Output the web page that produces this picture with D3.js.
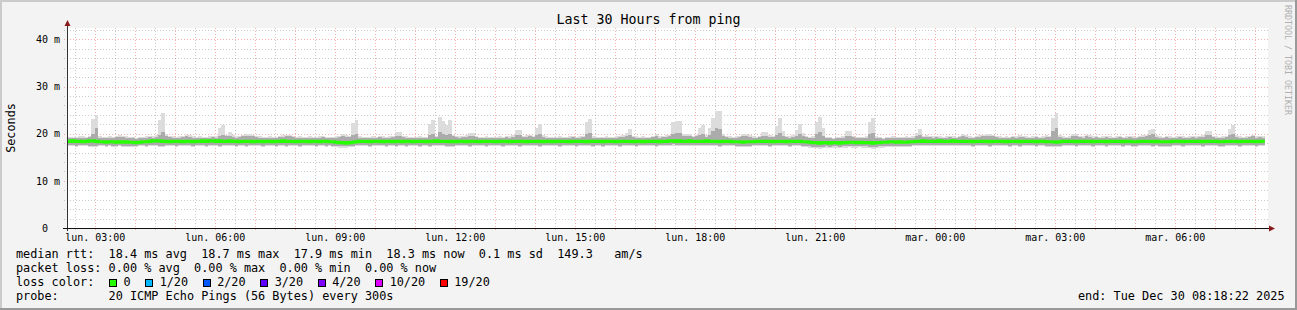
<!DOCTYPE html>
<html><head><meta charset="utf-8">
<script src="https://cdn.jsdelivr.net/npm/d3@7"></script>
<style>
html,body{margin:0;padding:0;background:#f3f3f3;}
svg{display:block;}
text{font-family:"DejaVu Sans Mono",monospace;}
</style></head><body>
<svg id="c" width="1297" height="310"></svg>
<script>
// ---------- DATA (5-minute steps, first step starts lun. 02:15) ----------
const medianRtt = [
18.4,18.4,18.5,18.4,18.4,18.3,18.4,18.5,18.5,18.4,18.3,18.3,18.2,18.3,18.3,18.2,18.3,18.2,18.3,18.2,
18.2,18.1,18.2,18.3,18.3,18.4,18.5,18.5,18.5,18.4,18.4,18.3,18.4,18.4,18.4,18.3,18.4,18.4,18.3,18.4,
18.4,18.5,18.4,18.5,18.5,18.4,18.5,18.4,18.4,18.5,18.4,18.4,18.3,18.4,18.4,18.4,18.3,18.4,18.4,18.3,
18.4,18.4,18.3,18.4,18.4,18.5,18.4,18.4,18.4,18.3,18.4,18.4,18.4,18.3,18.4,18.4,18.3,18.4,18.4,18.3,
18.3,18.2,18.1,18.1,18.0,18.1,18.2,18.3,18.4,18.4,18.4,18.3,18.4,18.4,18.4,18.3,18.4,18.4,18.3,18.4,
18.4,18.3,18.4,18.4,18.3,18.4,18.4,18.4,18.3,18.4,18.4,18.5,18.4,18.4,18.4,18.3,18.4,18.3,18.4,18.4,
18.3,18.4,18.4,18.4,18.3,18.4,18.4,18.4,18.4,18.3,18.4,18.4,18.4,18.3,18.4,18.4,18.4,18.4,18.3,18.4,
18.4,18.4,18.4,18.3,18.4,18.4,18.3,18.4,18.4,18.4,18.4,18.3,18.4,18.4,18.4,18.4,18.3,18.4,18.4,18.4,
18.4,18.3,18.4,18.4,18.4,18.3,18.4,18.4,18.4,18.4,18.3,18.4,18.4,18.3,18.4,18.4,18.4,18.4,18.3,18.4,
18.4,18.5,18.5,18.4,18.5,18.4,18.4,18.5,18.4,18.4,18.4,18.4,18.5,18.4,18.4,18.4,18.3,18.4,18.4,18.4,
18.3,18.3,18.3,18.2,18.3,18.3,18.3,18.4,18.4,18.4,18.4,18.4,18.3,18.4,18.4,18.4,18.3,18.4,18.4,18.4,
18.4,18.3,18.3,18.2,18.1,18.1,18.0,18.1,18.1,18.0,18.1,18.1,18.0,18.1,18.1,18.2,18.2,18.1,18.2,18.1,
18.1,18.1,18.0,18.1,18.1,18.2,18.2,18.3,18.3,18.2,18.3,18.2,18.2,18.3,18.3,18.4,18.4,18.5,18.4,18.4,
18.4,18.4,18.5,18.4,18.4,18.4,18.5,18.4,18.4,18.4,18.4,18.4,18.3,18.4,18.4,18.4,18.4,18.3,18.4,18.4,
18.4,18.4,18.3,18.4,18.4,18.4,18.3,18.4,18.4,18.4,18.4,18.3,18.4,18.4,18.3,18.3,18.3,18.2,18.3,18.4,
18.4,18.4,18.4,18.3,18.4,18.4,18.4,18.4,18.3,18.4,18.4,18.4,18.3,18.4,18.4,18.4,18.4,18.3,18.4,18.4,
18.3,18.3,18.4,18.4,18.4,18.4,18.3,18.4,18.3,18.3,18.3,18.3,18.4,18.4,18.4,18.3,18.4,18.4,18.4,18.4,
18.4,18.3,18.4,18.4,18.4,18.4,18.3,18.3,18.4,18.4,18.4,18.4,18.3,18.4,18.4,18.4,18.4,18.3,18.4,18.4
];
const maxRtt = [
19.4,19.3,19.3,19.4,19.5,19.5,19.4,19.6,23.2,23.9,19.5,19.4,19.3,19.5,19.4,19.6,19.7,19.6,19.5,19.4,
19.3,19.2,19.3,19.4,19.5,19.6,19.5,19.7,23.0,24.3,19.9,19.6,19.5,19.4,19.5,19.6,19.8,19.7,19.5,19.4,
19.5,19.4,19.3,19.5,19.6,19.5,21.2,21.8,19.8,20.3,19.7,19.5,19.6,19.8,20.0,20.0,19.8,19.6,19.5,19.4,
19.4,19.5,19.3,19.4,19.6,19.7,19.8,19.8,19.6,19.4,19.5,19.3,19.4,19.5,19.3,19.4,19.5,19.6,19.4,19.3,
19.4,19.5,19.6,20.0,19.7,19.6,22.3,23.0,19.5,19.4,19.3,19.4,19.5,19.4,19.6,19.5,19.4,19.5,19.6,20.4,
20.4,19.6,19.5,19.4,19.3,19.4,19.5,19.4,19.3,22.1,23.0,19.6,23.6,22.8,21.8,23.0,19.8,19.6,19.5,19.6,
19.7,20.2,20.2,19.6,19.4,19.3,19.5,19.4,19.3,19.4,19.5,19.4,19.6,19.5,19.7,20.7,20.8,19.6,19.7,19.8,
19.6,21.2,22.1,19.7,19.5,19.4,19.3,19.4,19.5,19.4,19.3,19.5,19.6,19.4,19.5,19.6,22.5,23.1,19.5,19.4,
19.3,19.4,19.5,19.4,19.3,19.5,19.6,19.7,20.2,21.0,19.6,19.5,19.4,19.5,19.3,19.4,19.6,19.9,19.5,19.6,
19.7,19.8,22.4,22.8,22.8,20.0,20.0,20.0,19.6,19.8,21.2,21.9,19.7,21.2,23.3,24.8,24.8,19.9,19.6,19.5,
19.4,19.5,19.6,20.0,20.0,19.7,19.5,19.4,19.6,20.3,20.3,19.7,19.6,21.6,23.3,20.6,19.6,19.5,19.7,20.8,
22.0,20.2,19.6,19.4,19.5,22.4,23.6,21.2,19.4,19.3,19.2,19.3,19.4,19.5,20.6,20.6,19.6,19.4,19.3,19.4,
19.5,22.4,23.3,19.5,19.3,19.2,19.3,19.4,19.5,19.3,19.4,19.3,19.5,19.4,19.5,20.2,21.1,19.6,19.7,19.6,
19.5,19.6,19.5,19.4,19.5,19.6,19.5,19.4,19.6,20.0,19.7,19.5,19.4,19.6,19.7,19.8,20.0,20.0,19.8,19.6,
19.5,19.4,19.5,19.4,19.6,19.5,19.7,19.6,19.5,19.4,19.5,19.6,19.4,19.5,19.7,19.6,23.3,24.3,19.7,19.5,
19.4,19.5,20.0,20.0,19.6,19.5,19.8,19.7,19.5,19.6,19.4,19.5,19.6,19.5,19.4,19.5,19.6,19.4,19.5,19.6,
19.5,19.4,19.6,19.7,19.8,20.8,21.1,19.7,19.5,19.4,19.6,19.5,19.4,19.5,19.6,19.5,19.4,19.5,19.6,19.5,
19.6,19.7,20.5,20.5,19.6,19.5,19.4,19.5,19.6,21.0,21.8,19.7,19.5,19.4,19.5,19.6,19.8,19.5,19.6,19.5
];
const upperSmoke = [
19.1,19.0,19.0,19.1,19.2,19.2,19.1,19.3,20.0,21.2,19.2,19.1,19.0,19.2,19.1,19.3,19.4,19.3,19.2,19.1,
19.0,18.9,19.0,19.1,19.2,19.3,19.2,19.4,19.8,20.4,19.6,19.3,19.2,19.1,19.2,19.3,19.5,19.4,19.2,19.1,
19.2,19.1,19.0,19.2,19.3,19.2,19.6,19.7,19.5,19.6,19.4,19.2,19.3,19.5,19.6,19.6,19.5,19.3,19.2,19.1,
19.1,19.2,19.0,19.1,19.3,19.4,19.5,19.5,19.3,19.1,19.2,19.0,19.1,19.2,19.0,19.1,19.2,19.3,19.1,19.0,
19.1,19.2,19.3,19.5,19.4,19.3,19.8,20.0,19.2,19.1,19.0,19.1,19.2,19.1,19.3,19.2,19.1,19.2,19.3,19.6,
19.6,19.3,19.2,19.1,19.0,19.1,19.2,19.1,19.0,19.8,20.0,19.3,20.4,20.0,19.8,20.0,19.5,19.3,19.2,19.3,
19.4,19.6,19.6,19.3,19.1,19.0,19.2,19.1,19.0,19.1,19.2,19.1,19.3,19.2,19.4,19.7,19.7,19.3,19.4,19.5,
19.3,19.8,20.0,19.4,19.2,19.1,19.0,19.1,19.2,19.1,19.0,19.2,19.3,19.1,19.2,19.3,20.0,20.2,19.2,19.1,
19.0,19.1,19.2,19.1,19.0,19.2,19.3,19.4,19.6,19.8,19.3,19.2,19.1,19.2,19.0,19.1,19.3,19.5,19.2,19.3,
19.4,19.5,20.0,20.2,20.2,19.6,19.6,19.6,19.3,19.5,19.8,20.0,19.4,19.8,20.6,21.2,21.0,19.6,19.3,19.2,
19.1,19.2,19.3,19.6,19.6,19.4,19.2,19.1,19.3,19.6,19.6,19.4,19.3,19.8,20.2,19.6,19.3,19.2,19.4,19.6,
20.0,19.6,19.3,19.1,19.2,19.9,20.3,19.6,19.1,19.0,18.9,19.0,19.1,19.2,19.6,19.6,19.3,19.1,19.0,19.1,
19.2,19.9,20.2,19.2,19.0,18.9,19.0,19.1,19.2,19.0,19.1,19.0,19.2,19.1,19.2,19.6,19.8,19.3,19.4,19.3,
19.2,19.3,19.2,19.1,19.2,19.3,19.2,19.1,19.3,19.6,19.4,19.2,19.1,19.3,19.4,19.5,19.6,19.6,19.5,19.3,
19.2,19.1,19.2,19.1,19.3,19.2,19.4,19.3,19.2,19.1,19.2,19.3,19.1,19.2,19.4,19.3,20.6,21.2,19.4,19.2,
19.1,19.2,19.6,19.6,19.3,19.2,19.5,19.4,19.2,19.3,19.1,19.2,19.3,19.2,19.1,19.2,19.3,19.1,19.2,19.3,
19.2,19.1,19.3,19.4,19.5,19.8,19.9,19.4,19.2,19.1,19.3,19.2,19.1,19.2,19.3,19.2,19.1,19.2,19.3,19.2,
19.3,19.4,19.7,19.7,19.3,19.2,19.1,19.2,19.3,19.8,20.0,19.4,19.2,19.1,19.2,19.3,19.5,19.2,19.3,19.2
];
const lowerSmoke = [
17.6,17.7,17.6,17.5,17.6,17.7,17.6,17.5,17.4,17.4,17.6,17.7,17.5,17.6,17.5,17.4,17.6,17.5,17.5,17.4,
17.5,17.5,17.6,17.6,17.5,17.6,17.7,17.6,17.5,17.5,17.6,17.7,17.6,17.5,17.6,17.7,17.6,17.6,17.5,17.6,
17.7,17.6,17.5,17.6,17.7,17.6,17.5,17.6,17.6,17.7,17.6,17.5,17.6,17.6,17.5,17.6,17.7,17.6,17.6,17.5,
17.6,17.7,17.6,17.5,17.6,17.6,17.5,17.6,17.7,17.6,17.5,17.6,17.6,17.7,17.6,17.5,17.6,17.6,17.5,17.6,
17.5,17.4,17.3,17.3,17.3,17.4,17.5,17.6,17.6,17.7,17.6,17.5,17.6,17.6,17.7,17.6,17.5,17.6,17.6,17.5,
17.6,17.6,17.5,17.6,17.7,17.6,17.5,17.6,17.6,17.5,17.6,17.7,17.6,17.6,17.5,17.4,17.5,17.6,17.6,17.7,
17.6,17.5,17.6,17.7,17.6,17.6,17.5,17.6,17.7,17.6,17.6,17.5,17.6,17.6,17.7,17.6,17.5,17.6,17.6,17.6,
17.7,17.6,17.5,17.6,17.6,17.7,17.6,17.6,17.5,17.6,17.7,17.6,17.6,17.5,17.6,17.6,17.7,17.6,17.5,17.6,
17.6,17.5,17.6,17.7,17.6,17.6,17.5,17.6,17.6,17.7,17.6,17.5,17.6,17.6,17.6,17.7,17.6,17.5,17.6,17.6,
17.7,17.7,17.8,17.7,17.7,17.6,17.7,17.7,17.6,17.7,17.6,17.7,17.7,17.6,17.7,17.6,17.5,17.6,17.6,17.6,
17.6,17.5,17.5,17.4,17.5,17.5,17.6,17.6,17.7,17.6,17.6,17.5,17.6,17.6,17.7,17.6,17.6,17.5,17.6,17.6,
17.6,17.5,17.4,17.3,17.2,17.2,17.1,17.2,17.3,17.2,17.3,17.3,17.2,17.3,17.3,17.4,17.3,17.3,17.4,17.3,
17.3,17.2,17.1,17.2,17.3,17.3,17.4,17.5,17.5,17.4,17.5,17.4,17.5,17.5,17.6,17.6,17.6,17.7,17.6,17.6,
17.6,17.6,17.7,17.6,17.6,17.7,17.7,17.6,17.6,17.6,17.7,17.6,17.5,17.6,17.6,17.7,17.6,17.5,17.6,17.6,
17.7,17.6,17.6,17.5,17.6,17.6,17.5,17.6,17.6,17.7,17.6,17.5,17.6,17.6,17.5,17.5,17.4,17.4,17.5,17.6,
17.6,17.6,17.7,17.5,17.6,17.6,17.7,17.6,17.5,17.6,17.6,17.7,17.5,17.6,17.6,17.6,17.7,17.5,17.6,17.6,
17.5,17.5,17.6,17.6,17.7,17.6,17.5,17.6,17.5,17.5,17.5,17.5,17.6,17.6,17.7,17.5,17.6,17.6,17.6,17.7,
17.6,17.5,17.6,17.6,17.6,17.7,17.5,17.5,17.6,17.6,17.7,17.6,17.5,17.6,17.6,17.6,17.7,17.5,17.6,17.6
];
const minRtt = [
17.3,17.4,17.3,17.2,17.3,17.4,17.3,17.2,17.1,17.1,17.3,17.4,17.2,17.3,17.2,17.1,17.3,17.2,17.2,17.1,
17.2,17.2,17.3,17.3,17.2,17.3,17.4,17.3,17.2,17.2,17.3,17.4,17.3,17.2,17.3,17.4,17.3,17.3,17.2,17.3,
17.4,17.3,17.2,17.3,17.4,17.3,17.2,17.3,17.3,17.4,17.3,17.2,17.3,17.3,17.2,17.3,17.4,17.3,17.3,17.2,
17.3,17.4,17.3,17.2,17.3,17.3,17.2,17.3,17.4,17.3,17.2,17.3,17.3,17.4,17.3,17.2,17.3,17.3,17.2,17.3,
17.2,17.1,17.0,17.0,17.0,17.1,17.2,17.3,17.3,17.4,17.3,17.2,17.3,17.3,17.4,17.3,17.2,17.3,17.3,17.2,
17.3,17.3,17.2,17.3,17.4,17.3,17.2,17.3,17.3,17.2,17.3,17.4,17.3,17.3,17.2,17.1,17.2,17.3,17.3,17.4,
17.3,17.2,17.3,17.4,17.3,17.3,17.2,17.3,17.4,17.3,17.3,17.2,17.3,17.3,17.4,17.3,17.2,17.3,17.3,17.3,
17.4,17.3,17.2,17.3,17.3,17.4,17.3,17.3,17.2,17.3,17.4,17.3,17.3,17.2,17.3,17.3,17.4,17.3,17.2,17.3,
17.3,17.2,17.3,17.4,17.3,17.3,17.2,17.3,17.3,17.4,17.3,17.2,17.3,17.3,17.3,17.4,17.3,17.2,17.3,17.3,
17.4,17.4,17.5,17.4,17.4,17.3,17.4,17.4,17.3,17.4,17.3,17.4,17.4,17.3,17.4,17.3,17.2,17.3,17.3,17.3,
17.3,17.2,17.2,17.1,17.2,17.2,17.3,17.3,17.4,17.3,17.3,17.2,17.3,17.3,17.4,17.3,17.3,17.2,17.3,17.3,
17.3,17.2,17.1,17.0,16.9,16.9,16.8,16.9,17.0,16.9,17.0,17.0,16.9,17.0,17.0,17.1,17.0,17.0,17.1,17.0,
17.0,16.9,16.8,16.9,17.0,17.0,17.1,17.2,17.2,17.1,17.2,17.1,17.2,17.2,17.3,17.3,17.3,17.4,17.3,17.3,
17.3,17.3,17.4,17.3,17.3,17.4,17.4,17.3,17.3,17.3,17.4,17.3,17.2,17.3,17.3,17.4,17.3,17.2,17.3,17.3,
17.4,17.3,17.3,17.2,17.3,17.3,17.2,17.3,17.3,17.4,17.3,17.2,17.3,17.3,17.2,17.2,17.1,17.1,17.2,17.3,
17.3,17.3,17.4,17.2,17.3,17.3,17.4,17.3,17.2,17.3,17.3,17.4,17.2,17.3,17.3,17.3,17.4,17.2,17.3,17.3,
17.2,17.2,17.3,17.3,17.4,17.3,17.2,17.3,17.2,17.2,17.2,17.2,17.3,17.3,17.4,17.2,17.3,17.3,17.3,17.4,
17.3,17.2,17.3,17.3,17.3,17.4,17.2,17.2,17.3,17.3,17.4,17.3,17.2,17.3,17.3,17.3,17.4,17.2,17.3,17.3
];
const yTickValues = [0, 10, 20, 30, 40];
const shortDays = ["dim.", "lun.", "mar.", "mer.", "jeu.", "ven.", "sam."];
const lossLabels = ["0", "1/20", "2/20", "3/20", "4/20", "10/20", "19/20"];
const lossColors = ["#26ff00", "#00b8ff", "#0059ff", "#5e00ff", "#7e00ff", "#dd00ff", "#ff0000"];
const titleText = "Last 30 Hours from ping";
const yLabelText = "Seconds";
const medianLine = "median rtt:  18.4 ms avg  18.7 ms max  17.9 ms min  18.3 ms now  0.1 ms sd  149.3   am/s";
const lossLine = "packet loss: 0.00 % avg  0.00 % max  0.00 % min  0.00 % now";
const lossColorLabel = "loss color:";
const probeLine = "probe:       20 ICMP Echo Pings (56 Bytes) every 300s";
const endLine = "end: Tue Dec 30 08:18:22 2025";
const watermark = "RRDTOOL / TOBI OETIKER";

// ---------- LAYOUT ----------
const W = 1297, H = 310;
const L = 67, R = 1267, T = 28, B = 228;
const endTime = new Date(2025, 11, 30, 8, 18, 22);
const startTime = new Date(endTime.getTime() - 30 * 3600 * 1000);
const firstStep = new Date(2025, 11, 29, 2, 15, 0);
const stepMs = 300 * 1000;

const svg = d3.select("#c");
const x = d3.scaleTime().domain([startTime, endTime]).range([L, R]);
const y = d3.scaleLinear().domain([0, 42.44]).range([B, T]);

// background + frame
svg.append("rect").attr("width", W).attr("height", H).attr("fill", "#f3f3f3");
svg.append("rect").attr("x", 0).attr("y", 0).attr("width", W).attr("height", 2).attr("fill", "#cbcbcb");
svg.append("rect").attr("x", 0).attr("y", 0).attr("width", 2).attr("height", H).attr("fill", "#cbcbcb");
svg.append("rect").attr("x", 0).attr("y", H - 2).attr("width", W).attr("height", 2).attr("fill", "#999");
svg.append("rect").attr("x", W - 2).attr("y", 0).attr("width", 2).attr("height", H).attr("fill", "#999");

// canvas
svg.append("rect").attr("x", L).attr("y", T).attr("width", R - L + 1).attr("height", B - T).attr("fill", "#fff");

svg.append("defs").append("clipPath").attr("id", "plotclip")
  .append("rect").attr("x", L + 1).attr("y", T).attr("width", R - L - 1).attr("height", B - T);

// grid (under the data)
const grid = svg.append("g").attr("shape-rendering", "crispEdges");
const minorX = d3.timeMinute.every(30).range(startTime, endTime).filter(d => d.getMinutes() !== 0);
const majorX = d3.timeHour.every(1).range(startTime, endTime);
const minorY = d3.range(2, 43, 2).filter(v => v % 10 !== 0);
const majorY = [10, 20, 30, 40];
const minorCol = "rgba(140,140,140,0.45)", majorCol = "rgba(235,70,70,0.42)";
grid.selectAll(".mx").data(minorX).join("line")
  .attr("x1", d => Math.round(x(d)) + 0.5).attr("x2", d => Math.round(x(d)) + 0.5)
  .attr("y1", T).attr("y2", B + 3).attr("stroke", minorCol).attr("stroke-dasharray", "1,2");
grid.selectAll(".Mx").data(majorX).join("line")
  .attr("x1", d => Math.round(x(d)) + 0.5).attr("x2", d => Math.round(x(d)) + 0.5)
  .attr("y1", T).attr("y2", B + 3).attr("stroke", majorCol).attr("stroke-dasharray", "1,2");
grid.selectAll(".my").data(minorY).join("line")
  .attr("y1", d => Math.round(y(d)) + 0.5).attr("y2", d => Math.round(y(d)) + 0.5)
  .attr("x1", L - 3).attr("x2", R + 1).attr("stroke", minorCol).attr("stroke-dasharray", "1,2");
grid.selectAll(".My").data(majorY).join("line")
  .attr("y1", d => Math.round(y(d)) + 0.5).attr("y2", d => Math.round(y(d)) + 0.5)
  .attr("x1", L - 3).attr("x2", R + 1).attr("stroke", majorCol).attr("stroke-dasharray", "1,2");

const steps = medianRtt.map((m, i) => ({
  t0: new Date(firstStep.getTime() + i * stepMs),
  t1: new Date(firstStep.getTime() + (i + 1) * stepMs),
  med: m, lo: minRtt[i], hi: maxRtt[i], q1: lowerSmoke[i], q3: upperSmoke[i]
}));

const plot = svg.append("g").attr("clip-path", "url(#plotclip)");
plot.append("g").attr("shape-rendering", "crispEdges").selectAll("rect").data(steps).join("rect")
  .attr("x", d => x(d.t0)).attr("width", d => x(d.t1) - x(d.t0) + 0.3)
  .attr("y", d => y(d.hi)).attr("height", d => y(d.lo) - y(d.hi))
  .attr("fill", "#dcdcdc");
plot.append("g").attr("shape-rendering", "crispEdges").selectAll("rect").data(steps).join("rect")
  .attr("x", d => x(d.t0)).attr("width", d => x(d.t1) - x(d.t0) + 0.3)
  .attr("y", d => y(d.q3)).attr("height", d => y(d.q1) - y(d.q3))
  .attr("fill", "#ababab");

// median line (step)
const medPts = steps.map(d => [d.t0, d.med]);
medPts.push([steps[steps.length - 1].t1, steps[steps.length - 1].med]);
plot.append("path").datum(medPts)
  .attr("d", d3.line().x(d => x(d[0])).y(d => y(d[1])).curve(d3.curveStepAfter))
  .attr("fill", "none").attr("stroke", lossColors[0]).attr("stroke-width", 3.2);

// axes lines + arrows
svg.append("line").attr("x1", L + 0.5).attr("x2", L + 0.5).attr("y1", B + 3).attr("y2", 24)
  .attr("stroke", "#333").attr("shape-rendering", "crispEdges");
svg.append("line").attr("x1", L - 4).attr("x2", R + 3).attr("y1", B + 0.5).attr("y2", B + 0.5)
  .attr("stroke", "#111").attr("shape-rendering", "crispEdges");
svg.append("path").attr("d", `M${L - 2.5},26 L${L + 3.5},26 L${L + 0.5},20 Z`).attr("fill", "#8b1a1a");
svg.append("path").attr("d", `M${R + 2},${B - 2.5} L${R + 2},${B + 3.5} L${R + 8},${B + 0.5} Z`).attr("fill", "#8b1a1a");

// tick labels via d3 axes
const fr = d3.timeFormatLocale({
  dateTime: "%A %e %B %Y à %X", date: "%d/%m/%Y", time: "%H:%M:%S", periods: ["AM", "PM"],
  days: ["dimanche", "lundi", "mardi", "mercredi", "jeudi", "vendredi", "samedi"],
  shortDays: shortDays,
  months: ["janvier", "février", "mars", "avril", "mai", "juin", "juillet", "août", "septembre", "octobre", "novembre", "décembre"],
  shortMonths: ["janv.", "févr.", "mars", "avr.", "mai", "juin", "juil.", "août", "sept.", "oct.", "nov.", "déc."]
});
const xAxis = d3.axisBottom(x).ticks(d3.timeHour.every(3)).tickFormat(fr.format("%a %H:%M")).tickSize(0).tickPadding(6);
const gx = svg.append("g").attr("transform", `translate(0,${B})`).call(xAxis);
gx.select(".domain").remove();
gx.selectAll("text").attr("font-family", "DejaVu Sans Mono").attr("font-size", 10).attr("fill", "#000");

const yAxis = d3.axisLeft(y).tickValues(yTickValues).tickFormat(d => d === 0 ? "0" : d + " m").tickSize(0).tickPadding(7);
const gy = svg.append("g").attr("transform", `translate(${L},0)`).call(yAxis);
gy.select(".domain").remove();
gy.selectAll("text").attr("font-family", "DejaVu Sans Mono").attr("font-size", 10).attr("fill", "#000")
  .attr("dx", d => d === 0 ? -12 : 0);

// title / labels
svg.append("text").attr("x", W / 2).attr("y", 24).attr("text-anchor", "middle")
  .attr("font-size", 13.3).attr("fill", "#000").text(titleText);
svg.append("text").attr("transform", `translate(15,128) rotate(-90)`).attr("text-anchor", "middle")
  .attr("font-size", 11.8).attr("fill", "#000").text(yLabelText);
svg.append("text").attr("transform", `translate(1285,5) rotate(90)`)
  .attr("font-size", 8.3).attr("fill", "#b0b0b0").text(watermark);

// legend
const lf = 11.83;
function ltext(str, xx, yy) {
  return svg.append("text").attr("x", xx).attr("y", yy).attr("font-size", lf).attr("fill", "#000")
    .attr("xml:space", "preserve").style("white-space", "pre").text(str);
}
ltext(medianLine, 16, 258);
ltext(lossLine, 16, 272);
ltext(lossColorLabel, 16, 286);
let cx = 109;
lossLabels.forEach((lab, i) => {
  svg.append("rect").attr("x", cx + 0.5).attr("y", 279.5).attr("width", 7).attr("height", 7)
    .attr("fill", lossColors[i]).attr("stroke", "#000").attr("stroke-width", 1).attr("shape-rendering", "crispEdges");
  const t = ltext(lab, cx + 14.5, 286);
  cx = cx + 14.5 + t.node().getComputedTextLength() + 14.5;
});
ltext(probeLine, 16, 300);
ltext(endLine, 1078, 300);
</script>
</body></html>
